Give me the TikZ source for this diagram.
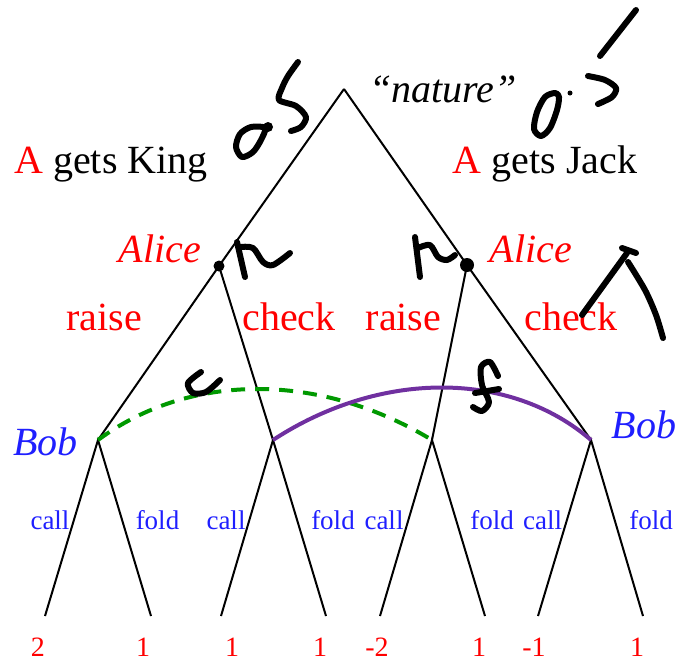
\documentclass[tikz,border=0pt]{standalone}
\usepackage{fontspec}
\setmainfont{Liberation Serif}
\usepackage{tikz}
\usepackage{xcolor}
\colorlet{alice}{red}
\colorlet{bob}{blue!88!white}
\definecolor{infoK}{RGB}{0,153,0}
\definecolor{infoJ}{RGB}{112,48,160}
\tikzstyle{branch}=[line width=1pt]
\tikzstyle{big}=[font=\fontsize{20}{24}\selectfont,inner sep=0,anchor=base]
\tikzstyle{act}=[bob,font=\fontsize{13.5}{16}\selectfont,inner sep=0,anchor=base]
\tikzstyle{pay}=[alice,font=\fontsize{14}{17}\selectfont,inner sep=0,anchor=base]
\tikzstyle{ink}=[line width=3pt,line cap=round,line join=round]

\begin{document}
\begin{tikzpicture}[x=0.5pt,y=-0.5pt]
  \useasboundingbox (0,0) rectangle (679,660);

  \coordinate (N)  at (344, 89); % NATURE
  \coordinate (AK) at (219,266); % ALICE, KING
  \coordinate (AJ) at (467,265); % ALICE, JACK
  \coordinate (B1) at ( 98,440); % BOB
  \coordinate (B2) at (273,440);
  \coordinate (B3) at (432,440);
  \coordinate (B4) at (591,440);
  \foreach \i/\x in {1/45,2/151,3/221,4/326,5/380,6/485,7/538,8/643}{
    \coordinate (L\i) at (\x,616);
  }

  % TREE
  \draw[branch] (N) -- (AK) -- (B1);
  \draw[branch] (N) -- (AJ) -- (B4);
  \draw[branch] (AK) -- (B2);
  \draw[branch] (AJ) -- (B3);
  \foreach \b/\l/\r in {B1/L1/L2,B2/L3/L4,B3/L5/L6,B4/L7/L8}{
    \draw[branch] (\l) -- (\b) -- (\r);
  }
  \fill (AK) circle (5.5);
  \fill (AJ) circle (7);

  % INFORMATION SETS
  \draw[infoK,line width=2pt,dash pattern=on 7pt off 5pt]
    (B1) .. controls (190,372) and (320,372) .. (B3);
  \draw[infoJ,line width=2pt]
    (B2) .. controls (380,370) and (510,370) .. (B4);

  % LABELS
  \node[big] (nat) at (443,102) {\textit{“nature”}};
  \node[big] (king) at (111,173) {\textcolor{alice}{A} gets King};
  \node[big] (jack) at (545,173) {\textcolor{alice}{A} gets Jack};
  \node[big,alice] (aliceK) at (160,262) {\textit{Alice}};
  \node[big,alice] (aliceJ) at (531,262) {\textit{Alice}};
  \foreach \x/\t [count=\i] in {104/raise,289/check,403.5/raise,571/check}{
    \node[big,alice] (move\i) at (\x,330) {\t};
  }
  \node[big,bob] (bobK) at (45.5,455) {\textit{Bob}};
  \node[big,bob] (bobJ) at (644,438) {\textit{Bob}};
  \foreach \x/\t [count=\i] in {50/call,157.5/fold,226/call,333/fold,
                                384/call,492/fold,542.5/call,651/fold}{
    \node[act] (act\i) at (\x,529) {\t};
  }
  \foreach \x/\v [count=\i] in {38/2,143/1,232/1,320/1,377/-2,479/1,534/-1,637/1}{
    \node[pay] (pay\i) at (\x,656) {\v};
  }

  % HANDWRITING
  \draw[ink] plot[smooth cycle] coordinates {(265,128) (251,127) (240,134) (236,147) (242,157) (253,152) (261,140)};
  \fill (268,127) circle (5);
  \draw[ink] plot[smooth] coordinates {(298,62) (288,76) (282,88) (279,100) (296,106) (306,117) (301,127) (291,131)};
  \draw[ink] plot[smooth cycle] coordinates {(555,93) (545,97) (537,112) (534,129) (541,136) (550,128) (557,110) (559,97)};
  \fill (570,93) circle (2.5);
  \draw[ink] (636,10) -- (600,56);
  \draw[ink] plot[smooth] coordinates {(588,76) (605,80) (616,88) (612,97) (598,104)};
  \draw[ink] (237,242) -- (245,277);
  \draw[ink] plot[smooth] coordinates {(240,247) (253,248) (263,262) (273,265) (290,253)};
  \draw[ink] (415,237) -- (420,277);
  \draw[ink] plot[smooth] coordinates {(418,248) (430,245) (438,257) (447,260) (455,255)};
  \draw[ink] plot[smooth] coordinates {(201,372) (188,383) (193,393) (206,392) (220,380)};
  \draw[ink] plot[smooth] coordinates {(498,376) (490,362) (481,367) (482,385) (489,402) (482,411) (473,407)};
  \draw[ink] (475,393) -- (499,389);
  \draw[ink] (582,315) -- (627,253);
  \draw[ink] (622,248) -- (636,253);
  \draw[ink] plot[smooth] coordinates {(628,262) (645,290) (656,315) (663,338)};
\end{tikzpicture}
\end{document}
